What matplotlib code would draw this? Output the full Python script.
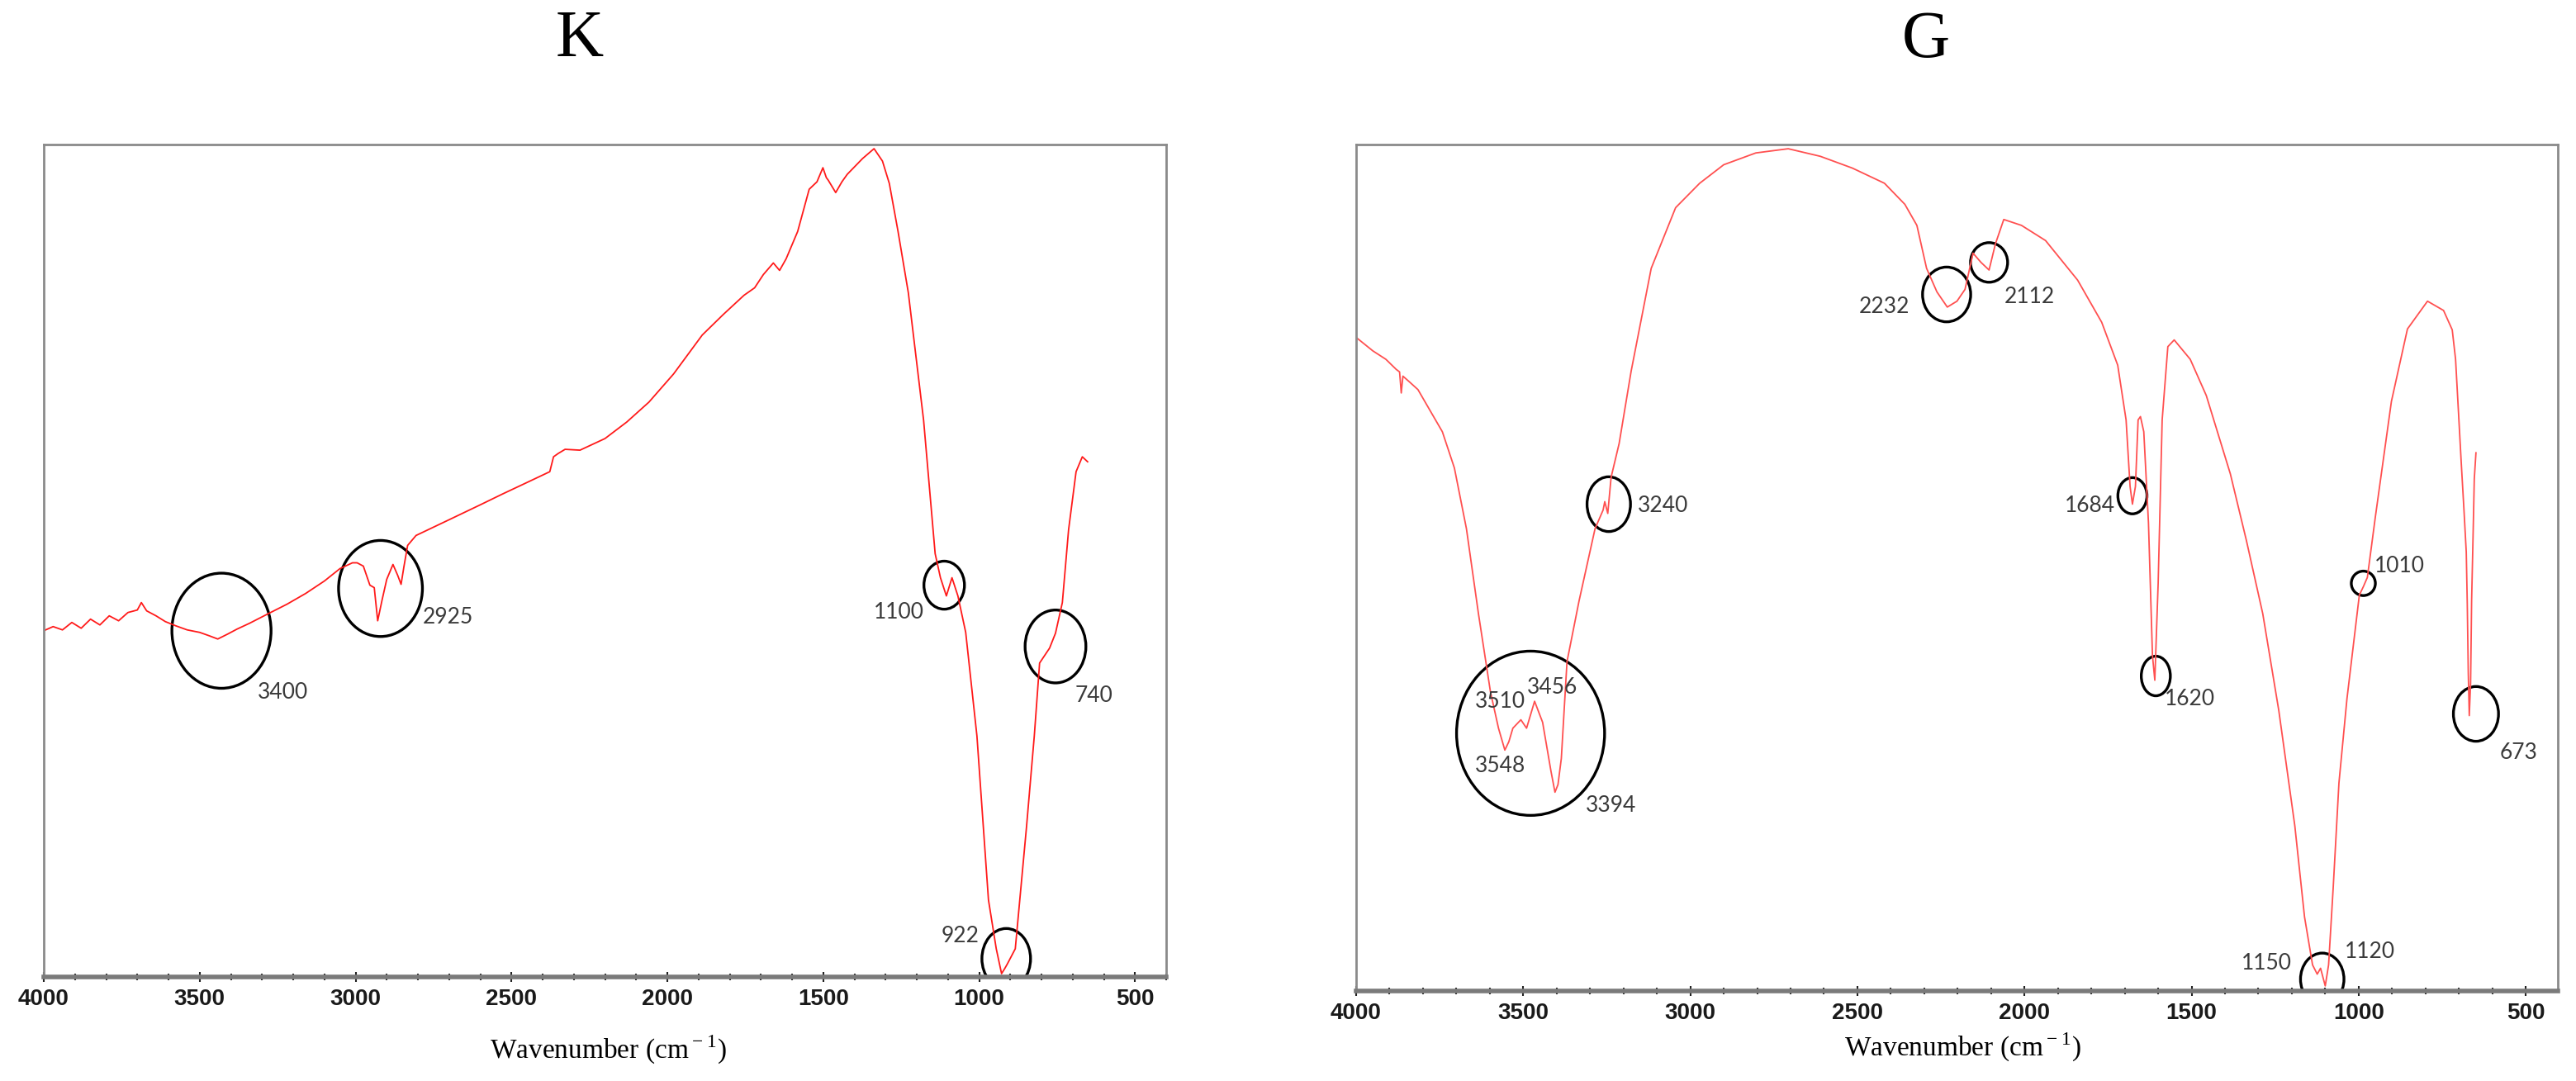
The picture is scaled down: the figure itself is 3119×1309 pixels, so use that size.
import matplotlib
matplotlib.use("Agg")
import matplotlib.pyplot as plt
from matplotlib.patches import Ellipse
from matplotlib.ticker import MultipleLocator

plt.rcParams['mathtext.fontset'] = 'custom'
plt.rcParams['mathtext.rm'] = 'Liberation Serif'

# --- spectrum K (relative transmittance, 0 = bottom of frame, 100 = top) ---
k_wn = [4000, 3970, 3940, 3910, 3880, 3850, 3820, 3790, 3760, 3730, 3700, 3687, 3670,
        3640, 3610, 3577, 3540, 3500, 3470, 3442, 3410, 3380, 3340, 3283, 3220, 3160,
        3100, 3050, 3010, 2995, 2975, 2954, 2940, 2929, 2915, 2900, 2880, 2865, 2854,
        2845, 2833, 2806, 2700, 2600, 2529, 2450, 2377, 2365, 2350, 2328, 2280, 2200,
        2130, 2059, 1980, 1888, 1820, 1754, 1720, 1692, 1660, 1640, 1619, 1582, 1545,
        1520, 1501, 1490, 1484, 1460, 1440, 1423, 1374, 1337, 1310, 1288, 1260, 1227,
        1178, 1141, 1124, 1105, 1087, 1068, 1043, 1007, 970, 945, 928, 918, 909, 884,
        848, 823, 806, 790, 774, 755, 733, 713, 689, 669, 652]
k_t = [41.8, 42.3, 41.9, 42.8, 42.1, 43.2, 42.5, 43.6, 43.0, 44.0, 44.3, 45.2, 44.2,
       43.6, 42.9, 42.4, 41.9, 41.6, 41.2, 40.8, 41.4, 42.0, 42.7, 43.8, 45.0, 46.3,
       47.8, 49.3, 50.0, 50.0, 49.6, 47.3, 47.0, 43.0, 45.5, 48.0, 49.8, 48.5, 47.4,
       49.5, 52.1, 53.3, 55.2, 57.0, 58.3, 59.7, 61.0, 62.8, 63.2, 63.7, 63.6, 65.0,
       67.0, 69.4, 72.8, 77.5, 80.0, 82.3, 83.2, 84.8, 86.2, 85.3, 86.7, 90.0, 95.1,
       96.0, 97.7, 96.5, 96.2, 94.7, 96.0, 96.9, 98.8, 100.0, 98.5, 95.8, 90.0, 82.6,
       67.2, 51.1, 48.2, 46.0, 48.2, 46.0, 41.6, 29.1, 9.3, 3.4, 0.4, 1.0, 1.6, 3.4,
       18.1, 29.1, 37.9, 38.8, 39.7, 41.5, 45.2, 54.0, 61.0, 62.8, 62.2]

# circled bands K: label, circle centre (wn, t), circle size (wn, t), label position
k_labels = ["3400", "2925", "1100", "740", "922"]
k_circ_x = [3430, 2920, 1112, 755, 913]
k_circ_y = [41.8, 46.9, 47.3, 39.9, 2.2]
k_circ_w = [318, 269, 130, 195, 156]
k_circ_h = [13.9, 11.6, 5.8, 8.8, 7.3]
k_lab_x = [3234, 2704, 1256, 632, 1061]
k_lab_y = [34.3, 43.4, 44.0, 33.9, 4.9]

# --- spectrum G ---
g_wn = [4000, 3950, 3911, 3880, 3870, 3865, 3860, 3840, 3815, 3780, 3742, 3706, 3670,
        3634, 3598, 3574, 3555, 3543, 3531, 3507, 3490, 3466, 3442, 3417, 3405, 3396,
        3386, 3369, 3333, 3285, 3261, 3256, 3247, 3237, 3213, 3177, 3117, 3044, 2972,
        2900, 2804, 2707, 2611, 2515, 2419, 2358, 2322, 2293, 2262, 2231, 2202, 2178,
        2154, 2130, 2106, 2087, 2062, 2009, 1937, 1841, 1769, 1721, 1696, 1684, 1677,
        1668, 1660, 1653, 1643, 1629, 1617, 1610, 1600, 1588, 1571, 1552, 1504, 1456,
        1384, 1336, 1287, 1239, 1191, 1162, 1138, 1124, 1114, 1100, 1090, 1076, 1059,
        1035, 998, 986, 974, 950, 902, 854, 794, 746, 720, 710, 701, 693, 685, 678, 675,
        672, 669, 665, 662, 657, 654, 649]
g_t = [77.6, 76.0, 75.0, 73.8, 73.5, 71.0, 73.0, 72.3, 71.4, 69.0, 66.4, 62.1, 54.9,
       44.8, 35.5, 31.2, 28.6, 29.6, 31.2, 32.2, 31.2, 34.4, 31.9, 26.1, 23.6, 24.5,
       27.6, 39.1, 46.3, 54.9, 57.1, 58.1, 56.7, 61.0, 65.0, 73.6, 85.8, 93.0, 95.9,
       98.1, 99.5, 100.0, 99.1, 97.7, 95.9, 93.4, 90.9, 85.8, 83.0, 81.2, 81.9, 83.3,
       87.6, 86.5, 85.6, 88.7, 91.6, 90.9, 89.1, 84.4, 79.4, 74.3, 67.8, 59.9, 57.8,
       59.9, 67.8, 68.2, 66.4, 55.6, 39.8, 36.9, 48.4, 67.8, 76.5, 77.3, 75.0, 70.7,
       61.4, 53.5, 44.8, 33.3, 19.6, 8.8, 3.1, 2.0, 2.7, 0.6, 3.1, 12.4, 24.7,
       34.7, 47.0, 48.0, 49.1, 56.3, 70.0, 78.6, 81.9, 80.8, 78.5, 75.0, 68.5, 62.7,
       57.2, 52.1, 46.0, 37.8, 32.7, 36.6, 46.3, 55.2, 60.8, 63.9]

g_labels = ["3510", "3456", "3548", "3394", "3240", "2232", "2112", "1684", "1620",
            "1010", "673", "1150", "1120"]
g_lab_x = [3569, 3413, 3569, 3237, 3081, 2419, 1985, 1805, 1504, 878, 522, 1275, 967]
g_lab_y = [34.4, 36.0, 26.7, 22.0, 57.6, 81.2, 82.4, 57.6, 34.7, 50.4, 28.3, 3.3, 4.7]
g_circ_x = [3478, 3244, 2233, 2106, 1677, 1607, 986, 649, 1109]
g_circ_y = [30.6, 57.8, 82.7, 86.5, 58.8, 37.4, 48.4, 32.9, 1.4]
g_circ_w = [443, 130, 144, 111, 87, 87, 72, 135, 130]
g_circ_h = [19.5, 6.5, 6.5, 4.7, 4.3, 4.7, 2.9, 6.5, 6.2]

tick_font = ['Liberation Sans']
label_font = ['Lato', 'DejaVu Sans']

fig = plt.figure(figsize=(31.19, 13.09), dpi=100)
ax_k = fig.add_axes([53 / 3119, 1 - 1183 / 1309, (1412 - 53) / 3119, (1183 - 175) / 1309])
ax_g = fig.add_axes([1642 / 3119, 1 - 1200 / 1309, (3097 - 1642) / 3119, (1200 - 175) / 1309])


def style_axes(ax, xmax_right):
    ax.set_xlim(4000, xmax_right)
    ax.set_ylim(0, 100.5)
    ax.set_yticks([])
    for s in ['left', 'top', 'right']:
        ax.spines[s].set_color('#8a8a8a')
        ax.spines[s].set_linewidth(2)
    ax.spines['bottom'].set_color('#7a7a7a')
    ax.spines['bottom'].set_linewidth(4)
    ax.xaxis.set_major_locator(MultipleLocator(500))
    ax.xaxis.set_minor_locator(MultipleLocator(100))
    ax.tick_params(axis='x', which='both', direction='inout', color='#222222',
                   length=6, width=1.5, pad=6)
    ax.tick_params(axis='x', which='major', length=8)
    for lab in ax.get_xticklabels():
        lab.set_family(tick_font)
        lab.set_fontweight('bold')
        lab.set_fontsize(20)
        lab.set_color('#1a1a1a')


# K panel
ax_k.plot(k_wn, k_t, color='#ff1a1a', lw=1.3)
style_axes(ax_k, 400)
for i in range(len(k_labels)):
    ax_k.add_patch(Ellipse((k_circ_x[i], k_circ_y[i]), k_circ_w[i], k_circ_h[i],
                           fill=False, ec='black', lw=2.4))
    ax_k.text(k_lab_x[i], k_lab_y[i], k_labels[i], ha='center', va='center',
              fontsize=19, color='#3a3a3a', family=label_font)

# G panel
ax_g.plot(g_wn, g_t, color='#ff5050', lw=1.3)
style_axes(ax_g, 404)
for i in range(len(g_circ_x)):
    ax_g.add_patch(Ellipse((g_circ_x[i], g_circ_y[i]), g_circ_w[i], g_circ_h[i],
                           fill=False, ec='black', lw=2.4))
for i in range(len(g_labels)):
    ax_g.text(g_lab_x[i], g_lab_y[i], g_labels[i], ha='center', va='center',
              fontsize=19, color='#3a3a3a', family=label_font)

# titles and axis labels
fig.text(702 / 3119, 1 - 49 / 1309, "K", ha='center', va='center',
         fontsize=58, family='Liberation Serif')
fig.text(2332 / 3119, 1 - 49 / 1309, "G", ha='center', va='center',
         fontsize=58, family='Liberation Serif')
fig.text(736 / 3119, 1 - 1271 / 1309, "Wavenumber (cm$^{\\rm -1}$)", ha='center',
         va='center', fontsize=24, family='Liberation Serif')
fig.text(2376 / 3119, 1 - 1268 / 1309, "Wavenumber (cm$^{\\rm -1}$)", ha='center',
         va='center', fontsize=24, family='Liberation Serif')

fig.savefig("out.png", dpi=100, facecolor='white')
